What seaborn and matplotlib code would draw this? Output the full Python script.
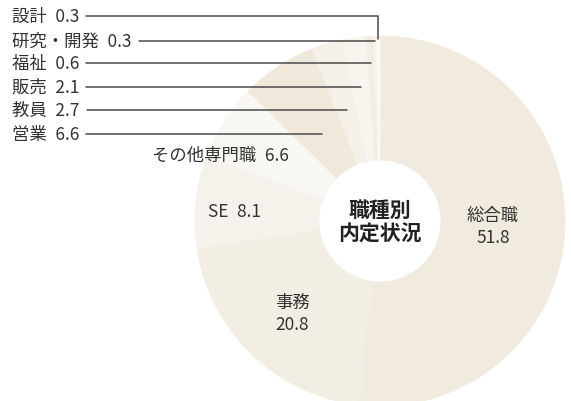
import numpy as np
import matplotlib
matplotlib.use("Agg")
import matplotlib.pyplot as plt
import seaborn as sns

# ======================================================
# DATOS
# ======================================================

categorias = ["総合職", "事務", "SE", "その他専門職", "営業",
              "教員", "販売", "福祉", "研究・開発", "設計"]
valores = [51.8, 20.8, 8.1, 6.6, 6.6, 2.7, 2.1, 0.6, 0.3, 0.3]
titulo_centro = "職種別\n内定状況"

colores = sns.color_palette(["#f1ebdf", "#f2eee3", "#f5f2eb", "#f9f7f1",
                             "#f0e9db", "#f5f1e8", "#f8f5ee", "#f3eee3",
                             "#f7f3ea", "#fbf9f4"])

# ======================================================
# ESTILO
# ======================================================

sns.set_style("white")
plt.rcParams["font.family"] = ["Noto Sans CJK JP", "DejaVu Sans"]
color_texto = "#333333"
color_linea = "#4a4a4a"
tam = 12.5
esp = "\u2002"   # espacio entre nombre y valor

W, H = 571, 402
cx, cy = 380, 222        # centro (pixeles, y hacia abajo)
radio, radio_int = 185, 61

fig = plt.figure(figsize=(W / 100, H / 100), dpi=100)
ax = fig.add_axes([0, 0, 1, 1])

cunas, _ = ax.pie(valores, colors=colores, startangle=90, counterclock=False,
                  center=(cx, H - cy), radius=radio,
                  wedgeprops=dict(width=radio - radio_int, linewidth=0.6))
for c in cunas:
    c.set_edgecolor(c.get_facecolor())

ax.set_xlim(0, W)
ax.set_ylim(0, H)
ax.set_aspect("equal")
ax.axis("off")

def py(y):
    return H - y

# angulo medio de cada porcion (en grados, horario desde arriba)
frac = np.array(valores) / np.sum(valores)
acum = np.cumsum(frac)
medio = (acum - frac / 2) * 360

# ======================================================
# ETIQUETAS CON LINEAS (porciones pequenas)
# ======================================================

pequenas = ["設計", "研究・開発", "福祉", "販売", "教員", "営業"]
y_lab = [17, 42, 64, 88, 111, 135]

renderer = fig.canvas.get_renderer()
for nombre, yl in zip(pequenas, y_lab):
    i = categorias.index(nombre)
    t = ax.text(12, py(yl), f"{nombre}{esp}{valores[i]}", fontsize=tam,
                color=color_texto, ha="left", va="center")
    # la linea empieza justo despues del texto
    xi = t.get_window_extent(renderer).x1 + 7
    ang = np.radians(medio[i])
    if nombre == "設計":
        yb = 40
        xe = cx + np.tan(ang) * (cy - yb)
        ax.plot([xi, xe, xe], [py(yl), py(yl), py(yb)], color=color_linea, lw=1.1)
    else:
        xe = cx + np.tan(ang) * (cy - yl)
        ax.plot([xi, xe], [py(yl), py(yl)], color=color_linea, lw=1.1)

# ======================================================
# ETIQUETAS INTERNAS
# ======================================================

i = categorias.index("その他専門職")
ax.text(220, py(156), f"{categorias[i]}{esp}{valores[i]}", fontsize=tam,
        color=color_texto, ha="center", va="center")
i = categorias.index("SE")
ax.text(234, py(212), f"{categorias[i]}{esp}{valores[i]}", fontsize=tam,
        color=color_texto, ha="center", va="center")
i = categorias.index("事務")
ax.text(292, py(314), f"{categorias[i]}\n{valores[i]}", fontsize=tam,
        color=color_texto, ha="center", va="center", linespacing=1.25)
i = categorias.index("総合職")
ax.text(493, py(227), f"{categorias[i]}\n{valores[i]}", fontsize=tam,
        color=color_texto, ha="center", va="center", linespacing=1.25)

ax.text(cx, py(222), titulo_centro, fontsize=15, fontweight="bold",
        color="#222222", ha="center", va="center", linespacing=1.15)

plt.savefig("out.png", dpi=100)
plt.close()
